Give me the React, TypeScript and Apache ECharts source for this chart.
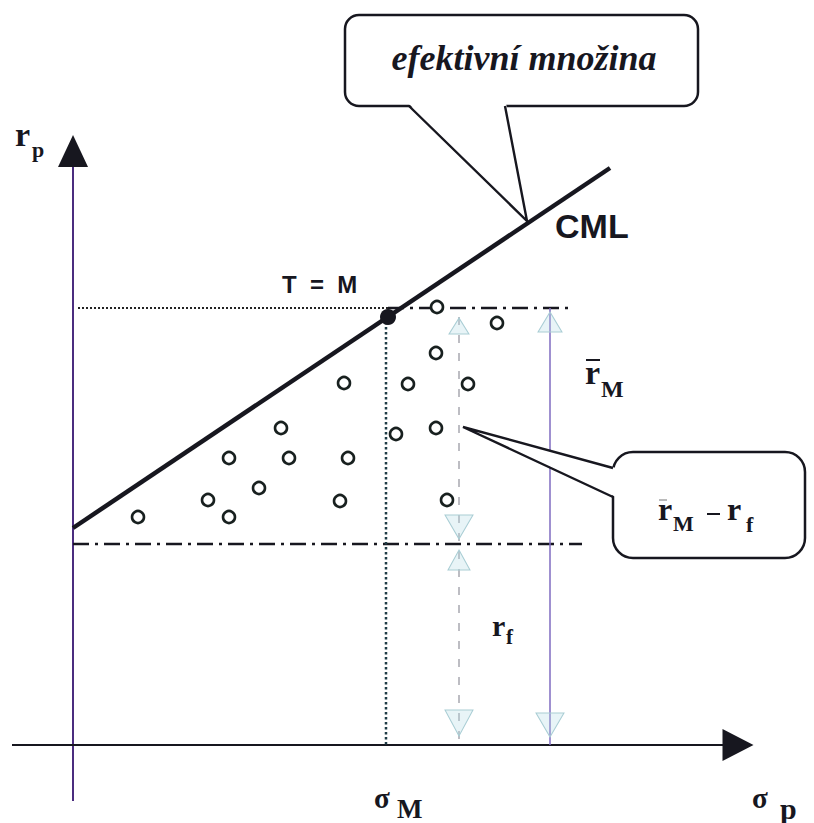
import React, { useEffect, useRef } from "react";
import * as echarts from "echarts";

// Coordinates: X = sigma (risk), Y = expected return. Origin at axes crossing.
const cmlLine: number[][] = [[0, 217], [537, 577]];
const marketPoint: number[][] = [[315, 428]];
const portfolios: number[][] = [
  [65, 228], [135, 245], [156, 228], [156, 287], [186, 257], [208, 317],
  [216, 287], [275, 287], [267, 244], [271, 362], [323, 311], [335, 361],
  [363, 317], [363, 392], [364, 438], [424, 422], [395, 361], [374, 245],
];
const rMLevel = 437;
const rfLevel = 201;
const sigmaM = 313;
const excessArrowX = 386;
const rMArrowX = 477;

const INK = "#17171f";

function txt(x: number, y: number, text: string, font: string, extra: any = {}) {
  return {
    type: "text",
    x,
    y,
    z: 100,
    style: {
      text,
      font,
      fill: INK,
      align: "left",
      textAlign: "left",
      verticalAlign: "middle",
      textVerticalAlign: "middle",
      ...extra,
    },
  };
}

export default function App() {
  const ref = useRef<HTMLDivElement>(null);
  useEffect(() => {
    if (!ref.current) return;
    const chart = echarts.init(ref.current, undefined, { renderer: "svg" });
    const lineBase = { type: "line", symbol: "none", silent: true, z: 3 };
    const arrowStyle = {
      color: "rgba(180,220,228,0.3)",
      borderColor: "#a9cdd4",
      borderWidth: 1,
      opacity: 1,
    };
    chart.setOption({
      animation: false,
      backgroundColor: "#ffffff",
      grid: { left: 0, right: 0, top: 0, bottom: 0 },
      xAxis: { type: "value", min: -73, max: 741, show: false },
      yAxis: { type: "value", min: -78, max: 745, show: false },
      series: [
        // axes
        { ...lineBase, data: [[0, -56], [0, 580]], lineStyle: { color: "#4b2d7f", width: 2 } },
        { ...lineBase, data: [[-61, 0], [652, 0]], lineStyle: { color: INK, width: 2 } },
        {
          type: "scatter", silent: true, z: 4, symbol: "triangle", symbolSize: [30, 32],
          data: [[0, 594]], itemStyle: { color: INK, opacity: 1 },
        },
        {
          type: "scatter", silent: true, z: 4, symbol: "triangle", symbolSize: [32, 31],
          symbolRotate: -90, data: [[665, 0]], itemStyle: { color: INK, opacity: 1 },
        },
        // reference lines
        { ...lineBase, data: [[5, rMLevel], [marketPoint[0][0], rMLevel]], lineStyle: { color: "#222", width: 2, type: "dotted" } },
        { ...lineBase, data: [[marketPoint[0][0], rMLevel], [500, rMLevel]], lineStyle: { color: INK, width: 2.5, type: [16, 6, 3, 6] } },
        { ...lineBase, data: [[0, rfLevel], [509, rfLevel]], lineStyle: { color: INK, width: 2.5, type: [16, 6, 3, 6] } },
        { ...lineBase, data: [[sigmaM, marketPoint[0][1]], [sigmaM, 0]], lineStyle: { color: "#203c46", width: 2.5, type: "dotted" } },
        { ...lineBase, data: [[excessArrowX, marketPoint[0][1]], [excessArrowX, 0]], lineStyle: { color: "#a8a8b0", width: 1.5, type: [8, 10] } },
        { ...lineBase, data: [[rMArrowX, rMLevel], [rMArrowX, 0]], lineStyle: { color: "#7f6bc0", width: 1.5 } },
        // arrowheads
        {
          type: "scatter", silent: true, z: 4, symbol: "triangle", itemStyle: arrowStyle,
          data: [
            { value: [excessArrowX, 419], symbolSize: [20, 16], symbolRotate: 0 },
            { value: [excessArrowX, 218], symbolSize: [28, 24], symbolRotate: 180 },
            { value: [excessArrowX, 185], symbolSize: [22, 20], symbolRotate: 0 },
            { value: [excessArrowX, 22], symbolSize: [28, 26], symbolRotate: 180 },
            { value: [rMArrowX, 423], symbolSize: [24, 20], symbolRotate: 0 },
            { value: [rMArrowX, 20], symbolSize: [28, 24], symbolRotate: 180 },
          ],
        },
        // CML
        { ...lineBase, z: 5, data: cmlLine, lineStyle: { color: INK, width: 4.5 } },
        // portfolios
        {
          type: "scatter", silent: true, z: 6, symbol: "circle", symbolSize: 12,
          data: portfolios,
          itemStyle: { color: "#ffffff", borderColor: "#18201f", borderWidth: 2.6, opacity: 1 },
        },
        // market portfolio
        {
          type: "scatter", silent: true, z: 7, symbol: "circle", symbolSize: 16,
          data: marketPoint, itemStyle: { color: INK, opacity: 1 },
        },
      ],
      graphic: [
        // top callout
        {
          type: "rect", z: 20,
          shape: { x: 345, y: 15, width: 353, height: 91, r: 14 },
          style: { fill: "#ffffff", stroke: INK, lineWidth: 2.5 },
        },
        {
          type: "polygon", z: 21,
          shape: { points: [[408, 103], [506, 103], [527, 221]] },
          style: { fill: "#ffffff", stroke: "none" },
        },
        {
          type: "polyline", z: 22,
          shape: { points: [[409, 106], [527, 221], [505, 106]] },
          style: { fill: "none", stroke: INK, lineWidth: 2.4 },
        },
        // bottom callout
        {
          type: "rect", z: 20,
          shape: { x: 613, y: 452, width: 192, height: 106, r: 20 },
          style: { fill: "#ffffff", stroke: INK, lineWidth: 2.5 },
        },
        {
          type: "polygon", z: 21,
          shape: { points: [[616, 468], [616, 497], [463, 427]] },
          style: { fill: "#ffffff", stroke: "none" },
        },
        {
          type: "polyline", z: 22,
          shape: { points: [[613, 468], [463, 427], [613, 497]] },
          style: { fill: "none", stroke: INK, lineWidth: 2.4 },
        },
        // texts
        txt(524, 58, "efektivní množina", 'italic bold 36px "Liberation Serif"', { align: "center", textAlign: "center" }),
        txt(15, 134, "r", 'bold 34px "Liberation Serif"'),
        txt(32, 149, "p", 'bold 22px "Liberation Serif"'),
        txt(282, 284, "T  =  M", 'bold 24px "Liberation Sans"'),
        txt(555, 226, "CML", 'bold 34px "Liberation Sans"'),
        txt(585, 372, "r", 'bold 34px "Liberation Serif"'),
        txt(601, 389, "M", 'bold 24px "Liberation Serif"'),
        {
          type: "line", z: 100,
          shape: { x1: 586, y1: 360, x2: 600, y2: 360 },
          style: { stroke: INK, lineWidth: 2 },
        },
        txt(658, 509, "r", 'bold 32px "Liberation Serif"'),
        txt(673, 523, "M", 'bold 22px "Liberation Serif"'),
        {
          type: "line", z: 100,
          shape: { x1: 659, y1: 500, x2: 667, y2: 500 },
          style: { stroke: "#777", lineWidth: 1 },
        },
        {
          type: "line", z: 100,
          shape: { x1: 707, y1: 514, x2: 720, y2: 514 },
          style: { stroke: INK, lineWidth: 2 },
        },
        txt(727, 509, "r", 'bold 32px "Liberation Serif"'),
        txt(746, 524, "f", 'bold 22px "Liberation Serif"'),
        txt(492, 625, "r", 'bold 30px "Liberation Serif"'),
        txt(506, 637, "f", 'bold 21px "Liberation Serif"'),
        txt(374, 798, "σ", 'bold 29px "Liberation Serif"'),
        txt(397, 809, "M", 'bold 27px "Liberation Serif"'),
        txt(752, 798, "σ", 'bold 29px "Liberation Serif"'),
        txt(780, 808, "p", 'bold 30px "Liberation Serif"'),
      ],
    });
    return () => chart.dispose();
  }, []);
  return (
    <div
      ref={ref}
      style={{ position: "fixed", left: 0, top: 0, width: 814, height: 823, background: "#fff" }}
    />
  );
}
